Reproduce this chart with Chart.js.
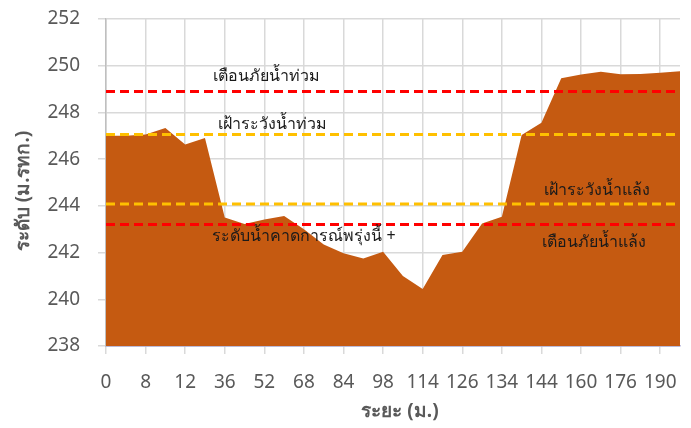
<!DOCTYPE html>
<html>
<head>
<meta charset="utf-8">
<script src="https://cdn.jsdelivr.net/npm/chart.js@4.4.1/dist/chart.umd.min.js"></script>
<style>
  html, body { margin: 0; padding: 0; background: #fff; }
  #wrap { width: 691px; height: 428px; }
</style>
</head>
<body>
<div id="wrap"><canvas id="mycanvas"></canvas></div>
<script>
// distance labels shown on the axis (every other point), blanks are unlabeled points
var distances = ['0', '', '8', '', '12', '', '36', '', '52', '', '68', '', '84', '', '98',
                 '', '114', '', '126', '', '134', '', '144', '', '160', '', '176', '', '190', ''];
var waterLevel = [247.0, 247.0, 247.05, 247.33, 246.63, 246.9, 243.5, 243.22, 243.42, 243.57,
                  243.0, 242.35, 241.97, 241.75, 242.04, 241.0, 240.44, 241.9, 242.04, 243.25,
                  243.53, 247.03, 247.56, 249.46, 249.62, 249.74, 249.63, 249.64, 249.7, 249.76];
var floodWarning = 248.9;
var floodWatch = 247.05;
var droughtWatch = 244.08;
var droughtWarning = 243.2;
var yTicks = [238, 240, 242, 244, 246, 248, 250, 252];

function flat(v) {
  var arr = [];
  for (var i in distances) arr.push(v);
  return arr;
}

var thaiFont = "'Noto Sans', 'DejaVu Sans', sans-serif";

// text labels placed at level values
var notes = [
  { text: 'เตือนภัยน้ำท่วม', x: 266, v: floodWarning, dy: -15 },
  { text: 'เฝ้าระวังน้ำท่วม', x: 272, v: floodWatch, dy: -10 },
  { text: 'เฝ้าระวังน้ำแล้ง', x: 597, v: droughtWatch, dy: -14 },
  { text: 'เตือนภัยน้ำแล้ง', x: 594, v: droughtWarning, dy: 18 },
  { text: 'ระดับน้ำคาดการณ์พรุ่งนี้ +', x: 304, v: droughtWarning, dy: 12 }
];

var notePlugin = {
  id: 'notes',
  afterDatasetsDraw: function(chart) {
    var ctx = chart.ctx;
    var y = chart.scales.y;
    ctx.save();
    ctx.font = '16px ' + thaiFont;
    ctx.fillStyle = '#1a1a1a';
    ctx.textAlign = 'center';
    ctx.textBaseline = 'middle';
    notes.forEach(function(n) {
      ctx.fillText(n.text, n.x, y.getPixelForValue(n.v) + n.dy);
    });
    // axis titles
    ctx.fillStyle = '#595959';
    ctx.font = 'bold 19px ' + thaiFont;
    ctx.fillText('ระยะ (ม.)', 400, 412);
    ctx.translate(24, 191);
    ctx.rotate(-Math.PI / 2);
    ctx.fillText('ระดับ (ม.รทก.)', 0, 0);
    ctx.restore();
  }
};

var chartdata = {
  labels: distances,
  datasets: [
    { data: flat(floodWarning), borderColor: '#FF0000', borderWidth: 3, borderDash: [9, 5], pointRadius: 0, fill: false, order: 1 },
    { data: flat(floodWatch), borderColor: '#FFC000', borderWidth: 3, borderDash: [9, 5], pointRadius: 0, fill: false, order: 1 },
    { data: flat(droughtWatch), borderColor: '#FFC000', borderWidth: 3, borderDash: [9, 5], pointRadius: 0, fill: false, order: 1 },
    { data: flat(droughtWarning), borderColor: '#FF0000', borderWidth: 3, borderDash: [9, 5], pointRadius: 0, fill: false, order: 1 },
    { data: waterLevel, backgroundColor: '#C55A11', borderWidth: 0, borderColor: '#C55A11', pointRadius: 0, fill: 'start', tension: 0, order: 5 }
  ]
};

var ctx = document.getElementById('mycanvas');
new Chart(ctx, {
  type: 'line',
  data: chartdata,
  plugins: [notePlugin],
  options: {
    responsive: true,
    maintainAspectRatio: false,
    animation: false,
    layout: { padding: { top: 19, right: 11, left: 0, bottom: 0 } },
    plugins: { legend: { display: false }, tooltip: { enabled: false } },
    scales: {
      x: {
        type: 'category',
        offset: false,
        grid: {
          color: function(c) { return c.index % 2 === 0 ? '#d9d9d9' : 'rgba(0,0,0,0)'; },
          lineWidth: 1.5,
          tickLength: 8
        },
        border: { color: '#8c8cc8', width: 1.5 },
        ticks: {
          autoSkip: false,
          maxRotation: 0,
          color: '#595959',
          font: { size: 19, family: thaiFont },
          padding: 17,
          callback: function(v, i) { return distances[i]; }
        },
        afterFit: function(s) { s.height = 82; s.paddingLeft = 0; s.paddingRight = 0; }
      },
      y: {
        min: 238,
        max: 252,
        afterBuildTicks: function(s) { s.ticks = yTicks.map(function(v) { return { value: v }; }); },
        grid: { color: '#d9d9d9', lineWidth: 1.5, tickLength: 8 },
        border: { color: '#bfbfbf', width: 1.5 },
        ticks: {
          color: '#595959',
          font: { size: 19, family: thaiFont },
          padding: 18
        },
        afterFit: function(s) { s.width = 106; s.paddingTop = 0; s.paddingBottom = 0; }
      }
    }
  }
});
</script>
</body>
</html>
